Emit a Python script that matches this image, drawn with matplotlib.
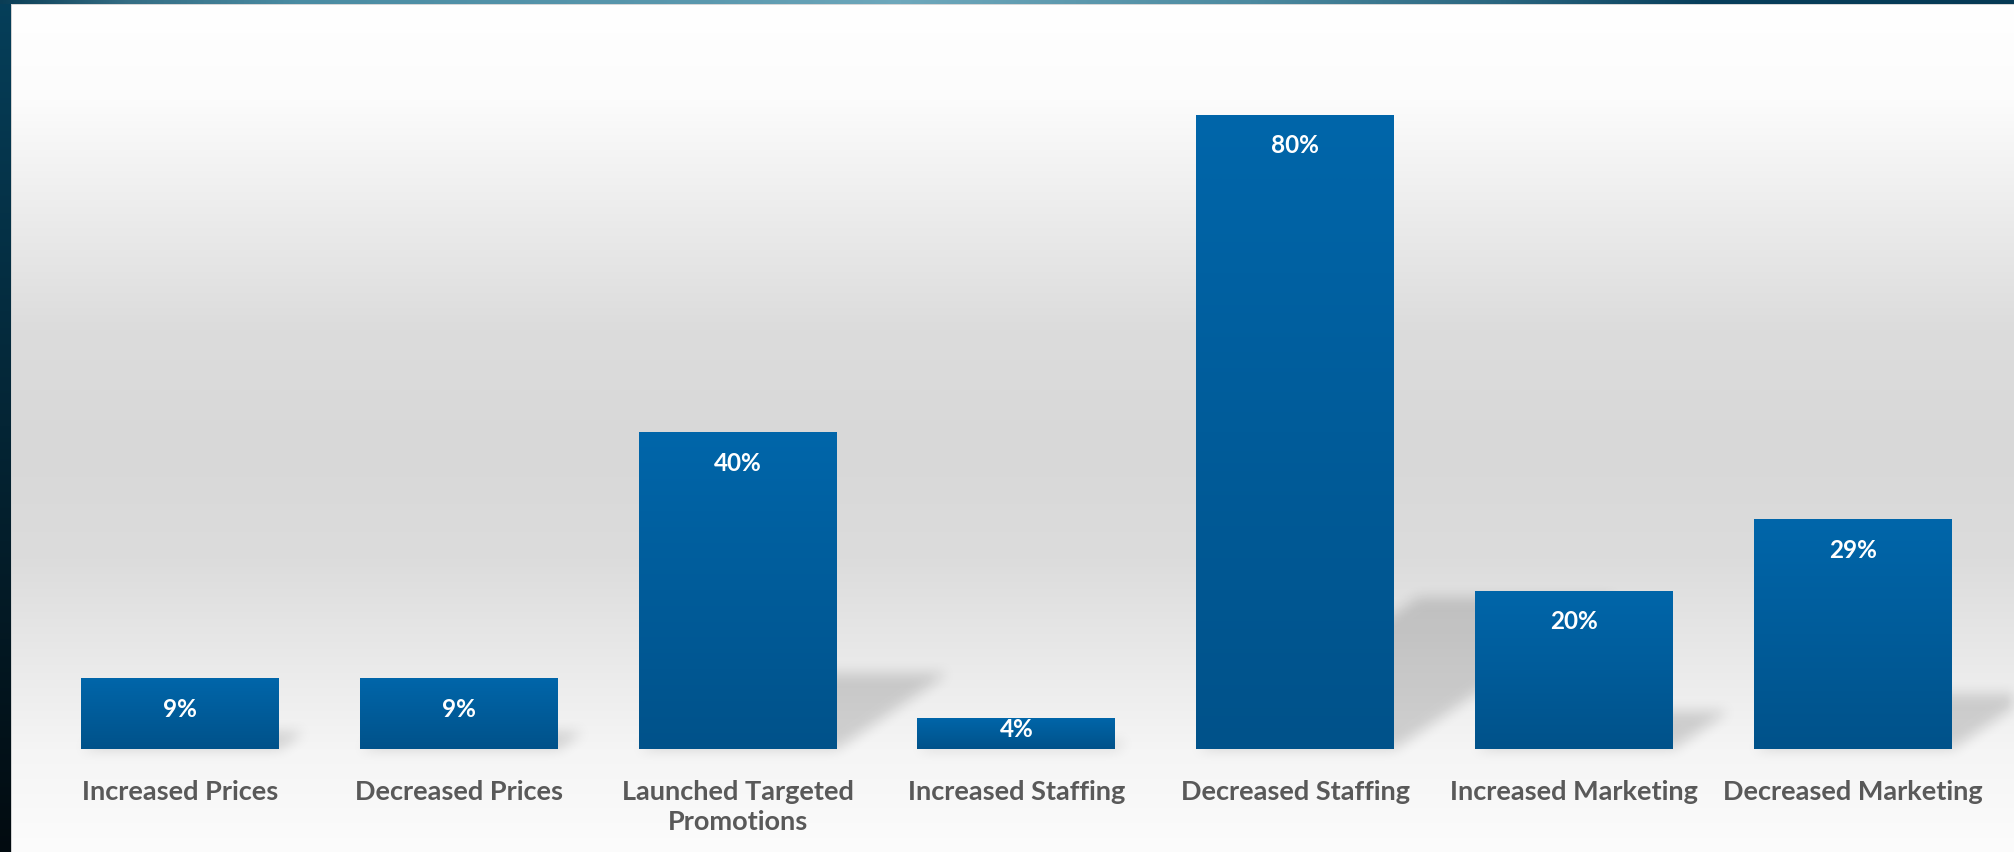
import numpy as np
import matplotlib
matplotlib.use('Agg')
import matplotlib.pyplot as plt
from matplotlib.path import Path
from matplotlib.colors import LinearSegmentedColormap

# data
categories = ['Increased Prices', 'Decreased Prices', 'Launched Targeted\nPromotions',
              'Increased Staffing', 'Decreased Staffing', 'Increased Marketing',
              'Decreased Marketing']
values = [9, 9, 40, 4, 80, 20, 29]
value_labels = ['9%', '9%', '40%', '4%', '80%', '20%', '29%']

W, H = 2015, 853
DPI = 100
plt.rcParams['font.family'] = ['Lato', 'DejaVu Sans']

fig = plt.figure(figsize=(W / DPI, H / DPI), dpi=DPI)

# ---- background: dark slide edges + light grey gradient panel
bg = np.zeros((H, W, 3))
rows = np.arange(H)
# panel vertical gradient (grey levels by pixel row from top)
gp = np.interp(rows, [0, 100, 200, 330, 450, 560, 650, 750, 853],
               [255, 252, 238, 220, 216, 220, 232, 245, 252]) / 255.0
bg[:, :, :] = gp[:, None, None]
# left strip
lt = np.array([0x06, 0x3f, 0x5a]) / 255.0
lb = np.array([0x02, 0x0b, 0x10]) / 255.0
f = (rows / H)[:, None]
bg[:, :11, :] = (lt * (1 - f) + lb * f)[:, None, :]
bg[:, 11, :] = 0.82
# top strip
cols = np.arange(W)
tx = [0, 130, 300, 700, 900, 1250, 1500, 1700, 2015]
tr = [0x0a, 0x35, 0x4a, 0x5a, 0x6e, 0x4c, 0x2a, 0x08, 0x06]
tg = [0x3d, 0x6e, 0x8c, 0x98, 0xa8, 0x8a, 0x66, 0x3f, 0x3a]
tb = [0x55, 0x85, 0xa3, 0xae, 0xbc, 0xa0, 0x80, 0x5c, 0x55]
top = np.stack([np.interp(cols, tx, tr), np.interp(cols, tx, tg),
                np.interp(cols, tx, tb)], axis=1) / 255.0
bg[:5, :, :] = top[None, :, :]
bg[5, 12:, :] = 0.84

bgax = fig.add_axes([0, 0, 1, 1])
bgax.imshow(bg, extent=(0, W, H, 0), aspect='auto', interpolation='nearest')
bgax.set_xlim(0, W)
bgax.set_ylim(H, 0)
bgax.axis('off')

# ---- chart axes
ax = fig.add_axes([0, 0, 1, 1])
ax.patch.set_alpha(0)
ax.set_xlim(-0.6456, 6.582)
ax.set_ylim(-12.92, 94.58)
ax.axis('off')

x = np.arange(len(values))
bw = 0.71
bars = ax.bar(x, values, width=bw, color='none', edgecolor='none', zorder=3)

# ---- blurred diagonal shadows cast behind each bar
px_per_x = ax.transData.transform((1, 0))[0] - ax.transData.transform((0, 0))[0]
px_per_y = ax.transData.transform((0, 1))[1] - ax.transData.transform((0, 0))[1]
gx, gy = np.meshgrid(np.arange(W) + 0.5, np.arange(H) + 0.5)
pts = np.column_stack([gx.ravel(), gy.ravel()])
mask = np.zeros(W * H)
for xi, v in zip(x, values):
    hpx = v * px_per_y
    dx = 0.35 * hpx / px_per_x
    dy = 0.24 * v
    xl, xr = xi - bw / 2, xi + bw / 2
    verts = ax.transData.transform([(xl, 0), (xr, 0), (xr + dx, dy), (xl + dx, dy)])
    mask = np.maximum(mask, Path(verts).contains_points(pts))
mask = mask.reshape(H, W)
k = np.ones(15) / 15.0
for _ in range(2):
    mask = np.apply_along_axis(lambda m: np.convolve(m, k, mode='same'), 1, mask)
    mask = np.apply_along_axis(lambda m: np.convolve(m, k, mode='same'), 0, mask)
shadow = np.zeros((H, W, 4))
shadow[:, :, 3] = mask * 0.15
ax.imshow(shadow, extent=(*ax.get_xlim(), *ax.get_ylim()), origin='lower',
          aspect='auto', zorder=2, interpolation='nearest')

# ---- gradient fill for bars
cmap = LinearSegmentedColormap.from_list('barblue', ['#00528a', '#0066aa'])
grad = np.linspace(0, 1, 256).reshape(-1, 1)
for b in bars:
    x0, w, h = b.get_x(), b.get_width(), b.get_height()
    im = ax.imshow(grad, cmap=cmap, origin='lower', aspect='auto',
                   extent=(x0, x0 + w, 0, h), zorder=3)
    im.set_clip_path(b)
ax.set_xlim(-0.6456, 6.582)
ax.set_ylim(-12.92, 94.58)

# ---- value labels inside bar tops
for xi, v, lab in zip(x, values, value_labels):
    hpx = v * px_per_y
    off = min(30, hpx - 21) * 72.0 / DPI
    ax.annotate(lab, (xi, v), xytext=(0, -off), textcoords='offset points',
                ha='center', va='center', color='white', fontsize=17.5,
                fontweight='bold', zorder=5)

# ---- category labels
for xi, cat in zip(x, categories):
    ax.annotate(cat, (xi, 0), xytext=(0, -21), textcoords='offset points',
                ha='center', va='top', color='#595959', fontsize=19.5,
                fontweight='bold', linespacing=1.3, zorder=5)

fig.savefig('out.png', dpi=DPI)
